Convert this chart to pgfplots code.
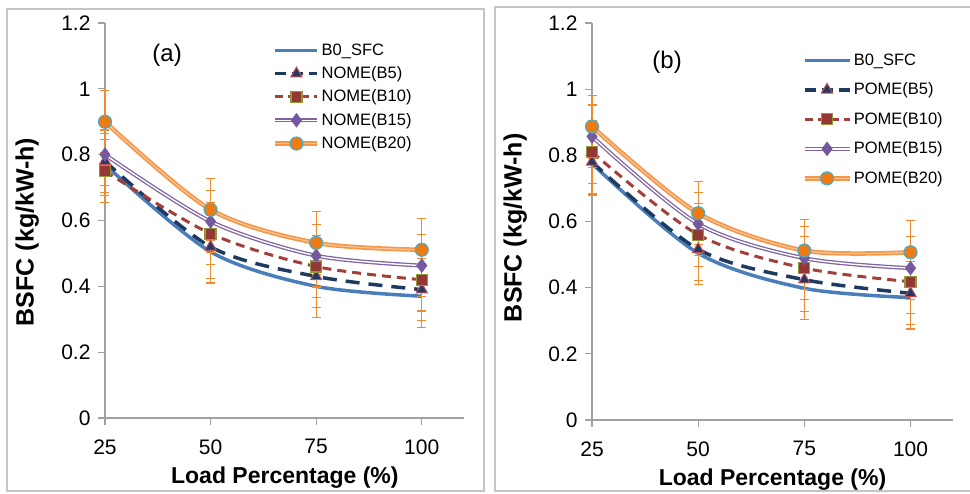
\documentclass[border=0pt]{standalone}
\usepackage{pgfplots}
\pgfplotsset{compat=1.18}
\usepackage{pgfplotstable}
\usepackage{fontspec}
\setmainfont{Liberation Sans}
\usetikzlibrary{plotmarks}

\definecolor{cB0}{HTML}{4A7EBB}
\definecolor{cB5}{HTML}{1F3A60}
\definecolor{cB10}{HTML}{A33F3B}
\definecolor{cB15}{HTML}{8064A2}
\definecolor{cB20}{HTML}{F79646}
\definecolor{cB20in}{HTML}{FBC59A}
\definecolor{mB5}{HTML}{1F3A68}
\definecolor{mB5e}{HTML}{C0504D}
\definecolor{mB10}{HTML}{953735}
\definecolor{mB10e}{HTML}{8F9A3A}
\definecolor{mB15}{HTML}{7459A0}
\definecolor{mB20}{HTML}{EE7A12}
\definecolor{mB20e}{HTML}{4BACC6}
\definecolor{errc}{HTML}{F08A30}
\definecolor{axgray}{HTML}{A0A0A0}
\definecolor{framec}{HTML}{C4C4C4}

\pgfplotstableread{
x   b0    b5    b10   b15   b20
25  0.77  0.78  0.75  0.80  0.90
50  0.505 0.52  0.56  0.597 0.633
75  0.40  0.43  0.46  0.493 0.532
100 0.37  0.39  0.42  0.463 0.511
}\dataA

\pgfplotstableread{
x   b0    b5    b10   b15   b20
25  0.775 0.78  0.81  0.857 0.887
50  0.504 0.516 0.56  0.593 0.625
75  0.398 0.424 0.459 0.489 0.512
100 0.37  0.383 0.418 0.459 0.507
}\dataB

\pgfplotsset{
  myaxis/.style={
    scale only axis, axis lines*=left,
    axis line style={axgray, line width=1.3pt},
    xmin=25, xmax=110, ymin=0, ymax=1.2,
    xtick={25,50,75,100}, ytick={0,0.2,0.4,0.6,0.8,1,1.2},
    tick align=outside, major tick length=7pt,
    tick style={axgray, line width=1.3pt},
    ticklabel style={font=\fontsize{21}{24}\selectfont},
    /pgf/number format/assume math mode=true,
    xticklabel style={yshift=-11pt},
    yticklabel style={xshift=-4pt},
    clip=false,
    legend cell align=left,
  },
  legB0/.style={legend image code/.code={
      \draw[cB0,line width=3.5pt] (0pt,1pt)--(#1,1pt);}},
  legB5/.style={legend image code/.code={
      \draw[cB5,line width=3.5pt,dash pattern=on 11pt off 6pt] (0pt,1pt)--(#1,1pt);
      \path plot[mark=triangle*,mark size=6.5pt,mark options={solid,fill=mB5,draw=mB5e,line width=1pt}] coordinates {({0.5*#1},1pt)};}},
  legB10/.style={legend image code/.code={
      \draw[cB10,line width=3pt,dash pattern=on 8pt off 5pt] (0pt,1pt)--(#1,1pt);
      \path plot[mark=square*,mark size=5.5pt,mark options={solid,fill=mB10,draw=mB10e,line width=1.2pt}] coordinates {({0.5*#1},1pt)};}},
  legB15/.style={legend image code/.code={
      \draw[cB15,line width=4pt] (0pt,1pt)--(#1,1pt);
      \draw[white,line width=1.4pt] (0pt,1pt)--(#1,1pt);
      \path plot[mark=diamond*,mark size=7pt,mark options={solid,fill=mB15,draw=mB15}] coordinates {({0.5*#1},1pt)};}},
  legB20/.style={legend image code/.code={
      \draw[cB20,line width=4.5pt] (0pt,1pt)--(#1,1pt);
      \draw[cB20in,line width=1.2pt] (0pt,1pt)--(#1,1pt);
      \path plot[mark=*,mark size=6.5pt,mark options={solid,fill=mB20,draw=mB20e,line width=1.2pt}] coordinates {({0.5*#1},1pt)};}},
  errplot/.style={draw=none, mark=none, forget plot,
      error bars/.cd, y dir=both, y fixed=0.095,
      error bar style={draw=errc, line width=1.1pt},
      error mark options={draw=errc, rotate=90, mark size=4.5pt, line width=1.1pt}},
}

\newcommand{\drawseries}[1]{%
  \addplot[cB0, line width=3.5pt, smooth, forget plot] table[x=x,y=b0]{#1};
  \addplot[cB5, line width=3.5pt, dash pattern=on 14pt off 9pt, smooth, forget plot] table[x=x,y=b5]{#1};
  \addplot[cB10, line width=3pt, dash pattern=on 9pt off 6pt, smooth, forget plot] table[x=x,y=b10]{#1};
  \addplot[cB15, line width=4pt, smooth, forget plot] table[x=x,y=b15]{#1};
  \addplot[white, line width=1.4pt, smooth, forget plot] table[x=x,y=b15]{#1};
  \addplot[cB20, line width=4.5pt, smooth, forget plot] table[x=x,y=b20]{#1};
  \addplot[cB20in, line width=1.2pt, smooth, forget plot] table[x=x,y=b20]{#1};
  \addplot[errplot] table[x=x,y=b0]{#1};
  \addplot[errplot] table[x=x,y=b5]{#1};
  \addplot[errplot] table[x=x,y=b10]{#1};
  \addplot[errplot] table[x=x,y=b15]{#1};
  \addplot[errplot] table[x=x,y=b20]{#1};
  \addplot[only marks, mark=triangle*, mark size=6.5pt, mark options={fill=mB5, draw=mB5e, line width=1pt}, forget plot] table[x=x,y=b5]{#1};
  \addplot[only marks, mark=square*, mark size=5.5pt, mark options={fill=mB10, draw=mB10e, line width=1.2pt}, forget plot] table[x=x,y=b10]{#1};
  \addplot[only marks, mark=diamond*, mark size=7pt, mark options={fill=mB15, draw=mB15}, forget plot] table[x=x,y=b15]{#1};
  \addplot[only marks, mark=*, mark size=6.5pt, mark options={fill=mB20, draw=mB20e, line width=1.2pt}, forget plot] table[x=x,y=b20]{#1};
}

\begin{document}
\begin{tikzpicture}[x=1pt,y=1pt]
\useasboundingbox (0,0) rectangle (970,494);
\draw[framec, line width=1.2pt] (7,3) rectangle (484,485);
\draw[framec, line width=1.2pt] (975,3) -- (495,3) -- (495,487) -- (975,487);

\begin{axis}[myaxis, at={(105pt,76pt)}, anchor=south west,
  width=359pt, height=395pt,
  xlabel={\bfseries Load Percentage (\%)},
  ylabel={\bfseries BSFC (kg/kW-h)},
  every axis x label/.style={at={(axis description cs:0.501,-0.152)}, anchor=center, font=\fontsize{23}{26}\selectfont},
  every axis y label/.style={at={(axis description cs:-0.217,0.471)}, anchor=center, rotate=90, font=\fontsize{25}{27}\selectfont},
  legend style={at={(0.468,0.949)}, anchor=north west, draw=none, fill=none,
    inner sep=0pt, row sep=7.3pt, column sep=2pt,
    font=\fontsize{16.5}{18}\selectfont,
    nodes={inner sep=0pt, text height=12pt, text depth=4pt}},
]
\drawseries{\dataA}
\addlegendimage{legB0=42pt}\addlegendentry{B0\_SFC}
\addlegendimage{legB5=42pt}\addlegendentry{NOME(B5)}
\addlegendimage{legB10=42pt}\addlegendentry{NOME(B10)}
\addlegendimage{legB15=42pt}\addlegendentry{NOME(B15)}
\addlegendimage{legB20=42pt}\addlegendentry{NOME(B20)}
\node[font=\fontsize{24}{26}\selectfont] at (rel axis cs:0.173,0.919) {(a)};
\end{axis}

\begin{axis}[myaxis, at={(592pt,74pt)}, anchor=south west,
  width=361pt, height=397pt,
  xlabel={\bfseries Load Percentage (\%)},
  ylabel={\bfseries BSFC (kg/kW-h)},
  every axis x label/.style={at={(axis description cs:0.5,-0.151)}, anchor=center, font=\fontsize{23}{26}\selectfont},
  every axis y label/.style={at={(axis description cs:-0.213,0.484)}, anchor=center, rotate=90, font=\fontsize{25}{27}\selectfont},
  legend style={at={(0.582,0.924)}, anchor=north west, draw=none, fill=none,
    inner sep=0pt, row sep=13.5pt, column sep=2pt,
    font=\fontsize{16.5}{18}\selectfont,
    nodes={inner sep=0pt, text height=12pt, text depth=4pt}},
]
\drawseries{\dataB}
\addlegendimage{legB0=45pt}\addlegendentry{B0\_SFC}
\addlegendimage{legB5=45pt}\addlegendentry{POME(B5)}
\addlegendimage{legB10=45pt}\addlegendentry{POME(B10)}
\addlegendimage{legB15=45pt}\addlegendentry{POME(B15)}
\addlegendimage{legB20=45pt}\addlegendentry{POME(B20)}
\node[font=\fontsize{24}{26}\selectfont] at (rel axis cs:0.208,0.902) {(b)};
\end{axis}
\end{tikzpicture}
\end{document}
